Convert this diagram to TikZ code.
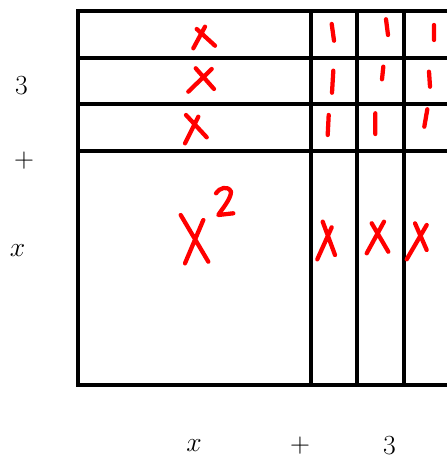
\documentclass[tikz,border=0pt]{standalone}
\usepackage{amsmath}

\begin{document}
\begin{tikzpicture}[x=0.75pt,y=-0.75pt,
    gridline/.style={line width=3pt},
    pen/.style={red, line width=3.2pt, line cap=round, line join=round},
    lbl/.style={font=\fontsize{20}{24}\selectfont, inner sep=0pt}]
    \useasboundingbox (0,0) rectangle (447,459);

    \draw[gridline] (447,11) -- (77.5,11) -- (77.5,384.5) -- (447,384.5);
    \foreach \y in {58,104.5,151} \draw[gridline] (77.5,\y) -- (447,\y);
    \foreach \x in {310.5,356.5,404} \draw[gridline] (\x,11) -- (\x,384.5);

    \node[lbl] (sideThree) at (21.5,86) {$3$};
    \node[lbl] (sidePlus) at (24,161) {$+$};
    \node[lbl] (sideX) at (17.5,251) {$x$};
    \node[lbl] (baseX) at (194,446) {$x$};
    \node[lbl] (basePlus) at (300,446) {$+$};
    \node[lbl] (baseThree) at (389.5,446) {$3$};

    % x strips
    \draw[pen] (193.3,48.3) -- (205,26.7) (196.7,29) -- (215,45.7);
    \draw[pen] (195.7,68.3) -- (214,89) (211.7,69) -- (188.3,91.7);
    \draw[pen] (186,115) -- (206.7,137.3) (198.3,116.7) -- (185,143.3);
    \draw[pen] (331.7,227.3) -- (317.3,259.3) (322.7,221.7) -- (335,255);
    \draw[pen] (384,221.7) -- (366.7,253.3) (371.7,223.3) -- (388.3,251.7);
    \draw[pen] (426.7,225) -- (406.7,259.3) (415,223.3) -- (426.7,250);

    % ones
    \draw[pen] (331.7,24) -- (334,40.7) (333.3,70.7) -- (332,92.7) (328.7,115) -- (327.7,135);
    \draw[pen] (386,19.3) -- (388,35) (383.3,66.7) -- (382,79.3) (375.3,113.3) -- (375.3,134);
    \draw[pen] (434,25) -- (434,40) (429,71.7) -- (430,86.7) (427.3,109.3) -- (424.3,126.7);

    % x squared
    \draw[pen] (180.7,215) -- (208.3,261.7) (203.3,220) -- (185,263.3);
    \draw[pen] (216,193.3) .. controls (219,188) and (228,185) .. (231,191.7)
        .. controls (231,199) and (222,209) .. (218.3,215) -- (233.3,213.3);
\end{tikzpicture}
\end{document}
